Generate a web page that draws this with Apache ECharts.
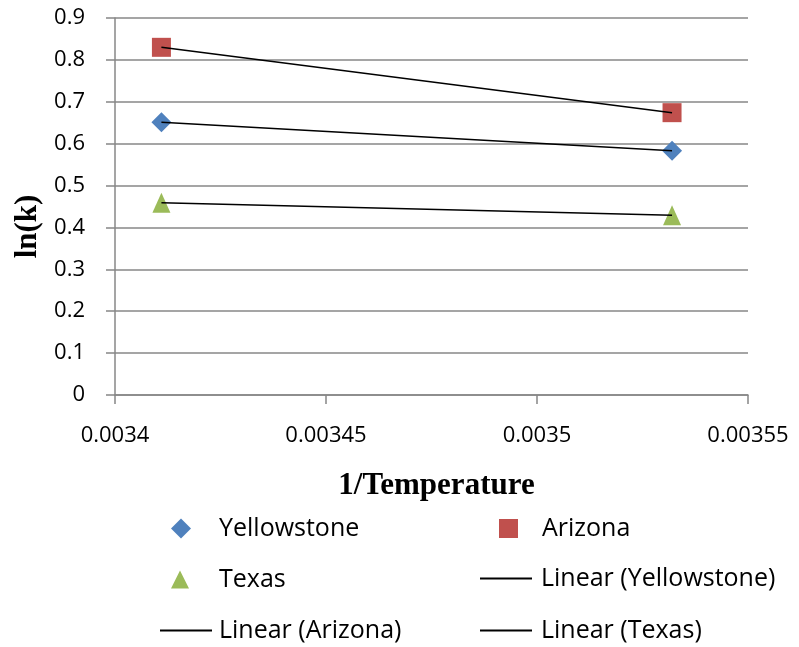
<!DOCTYPE html>
<html><head><meta charset="utf-8">
<script src="https://cdn.jsdelivr.net/npm/echarts@6/dist/echarts.min.js"></script>
<style>html,body{margin:0;padding:0;background:#fff}#c{width:799px;height:647px}</style>
</head><body><div id="c"></div>
<script>
const xValues = [0.003411, 0.003532];
const yellowstone = [0.651, 0.583];
const arizona = [0.830, 0.674];
const texas = [0.459, 0.429];
const xTicks = [0.0034, 0.00345, 0.0035, 0.00355];
const seriesNames = ['Yellowstone', 'Arizona', 'Texas'];

function fit(xs, ys) {
  const n = xs.length;
  const mx = xs.reduce((a,b)=>a+b,0)/n, my = ys.reduce((a,b)=>a+b,0)/n;
  let sxy=0, sxx=0;
  for (let i=0;i<n;i++){sxy+=(xs[i]-mx)*(ys[i]-my); sxx+=(xs[i]-mx)*(xs[i]-mx);}
  const b = sxy/sxx, a = my - b*mx;
  const x0 = Math.min(...xs), x1 = Math.max(...xs);
  return [[x0, a+b*x0],[x1, a+b*x1]];
}
const pairs = ys => xValues.map((x,i)=>[x, ys[i]]);

const chart = echarts.init(document.getElementById('c'));
const fontSans = 'Open Sans';
const fontSerif = 'Liberation Serif';
const axisGray = '#878787';
const lineIcon = 'path://M0,0 L52,0 L52,2 L0,2 Z';

function legendAt(name, left, top, icon, w, h, gap) {
  return {data: [{name: name, icon: icon}], left: left, top: top, itemWidth: w, itemHeight: h,
    itemGap: 0, selectedMode: false, padding: 0,
    textStyle: {fontFamily: fontSans, fontSize: 25, color: '#000', padding: [0, 0, 0, gap]}};
}

chart.setOption({
  animation: false,
  grid: {left: 115, right: 51, top: 18, bottom: 252},
  xAxis: {
    type: 'value', min: xTicks[0], max: xTicks[xTicks.length-1], interval: 0.00005,
    name: '1/Temperature', nameLocation: 'middle', nameGap: 75,
    nameTextStyle: {fontFamily: fontSerif, fontWeight: 'bold', fontSize: 31, color: '#000', padding: [0, 0, 0, 10]},
    axisLine: {show: true, onZero: false, lineStyle: {color: axisGray, width: 1.5}},
    axisTick: {show: true, length: 9, lineStyle: {color: axisGray, width: 1.5}},
    axisLabel: {margin: 30, fontFamily: fontSans, fontSize: 22, color: '#000',
      formatter: v => String(+v.toFixed(6))},
    splitLine: {show: false}
  },
  yAxis: {
    type: 'value', min: 0, max: 0.9, interval: 0.1,
    name: 'ln(k)', nameLocation: 'middle', nameGap: 70,
    nameTextStyle: {fontFamily: fontSerif, fontWeight: 'bold', fontSize: 31, color: '#000', padding: [0, 40, 0, 0]},
    axisLine: {show: true, lineStyle: {color: axisGray, width: 1.5}},
    axisTick: {show: true, length: 9, lineStyle: {color: axisGray, width: 1.5}},
    axisLabel: {margin: 30, fontFamily: fontSans, fontSize: 22, color: '#000',
      formatter: v => String(+v.toFixed(2))},
    splitLine: {show: true, lineStyle: {color: axisGray, width: 1.5}}
  },
  legend: [
    legendAt('Yellowstone', 171, 516, 'diamond', 20, 20, 23),
    legendAt('Arizona', 499, 516, 'rect', 19, 19, 19),
    legendAt('Texas', 171, 567, 'triangle', 18, 18, 25),
    legendAt('Linear (Yellowstone)', 480, 566, lineIcon, 52, 2, 4),
    legendAt('Linear (Arizona)', 160, 618, lineIcon, 52, 2, 2),
    legendAt('Linear (Texas)', 480, 618, lineIcon, 52, 2, 4)
  ],
  series: [
    {name: 'Yellowstone', type: 'scatter', symbol: 'diamond', symbolSize: 20, data: pairs(yellowstone), itemStyle: {color: '#4F81BD', opacity: 1}, z: 2},
    {name: 'Arizona', type: 'scatter', symbol: 'rect', symbolSize: 19, data: pairs(arizona), itemStyle: {color: '#C0504D', opacity: 1}, z: 2},
    {name: 'Texas', type: 'scatter', symbol: 'triangle', symbolSize: [18, 20], data: pairs(texas), itemStyle: {color: '#9BBB59', opacity: 1}, z: 2},
    {name: 'Linear (Yellowstone)', type: 'line', showSymbol: false, symbol: 'none', data: fit(xValues, yellowstone), lineStyle: {color: '#000', width: 1.5}, itemStyle: {color: '#000'}, z: 5},
    {name: 'Linear (Arizona)', type: 'line', showSymbol: false, symbol: 'none', data: fit(xValues, arizona), lineStyle: {color: '#000', width: 1.5}, itemStyle: {color: '#000'}, z: 5},
    {name: 'Linear (Texas)', type: 'line', showSymbol: false, symbol: 'none', data: fit(xValues, texas), lineStyle: {color: '#000', width: 1.5}, itemStyle: {color: '#000'}, z: 5}
  ]
});
</script>
</body></html>
